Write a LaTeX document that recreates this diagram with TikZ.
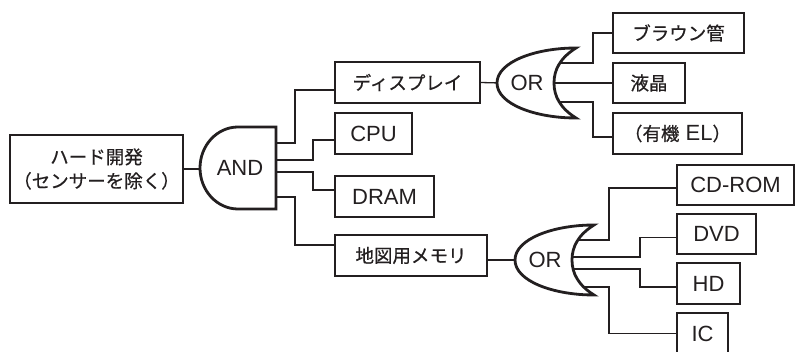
\documentclass[tikz,border=0pt]{standalone}
\usepackage{fontspec}
\setmainfont{Liberation Sans}
\newfontfamily\jp[FakeBold=0.6]{Noto Sans CJK JP}
\usetikzlibrary{calc}
\definecolor{ink}{RGB}{35,31,32}
\newcommand\J[1]{{\jp\fontsize{18.5}{24}\selectfont #1}}
\begin{document}
\begin{tikzpicture}[x=1pt,y=1pt,
  box/.style={draw=ink, line width=1.3pt, rectangle, inner sep=0pt, text=ink, font=\fontsize{22}{26}\selectfont, align=center},
  jbox/.style={box, font=\jp\fontsize{18.5}{24}\selectfont},
  wire/.style={draw=ink, line width=1.3pt},
  gate/.style={draw=ink, line width=2.8pt, fill=white, line join=miter, miter limit=4},
  glabel/.style={text=ink, font=\fontsize{22}{26}\selectfont, inner sep=0pt}]
\useasboundingbox (0,0) rectangle (795,-352);
\fill[white] (0,0) rectangle (795,-352);

% boxes
\node[jbox, minimum width=173, minimum height=68] (hard) at (96.5,-169) {ハード開発\\（センサーを除く）};
\node[jbox, minimum width=145, minimum height=41] (disp) at (407.5,-82.5) {ディスプレイ};
\node[box, minimum width=77, minimum height=41] (cpu) at (373.5,-133.5) {CPU};
\node[box, minimum width=99, minimum height=41] (dram) at (384.5,-196.5) {DRAM};
\node[jbox, minimum width=152, minimum height=41] (map) at (411,-255.5) {地図用メモリ};
\node[jbox, minimum width=131, minimum height=40] (braun) at (678.5,-33) {ブラウン管};
\node[jbox, minimum width=72, minimum height=40] (lcd) at (649,-83) {液晶};
\node[box, minimum width=129, minimum height=41] (oel) at (677.5,-133.5) {\J{（有機} EL\J{）}};
\node[box, minimum width=117, minimum height=40] (cdrom) at (735.5,-185) {CD-ROM};
\node[box, minimum width=79, minimum height=40] (dvd) at (716.5,-234) {DVD};
\node[box, minimum width=63, minimum height=41] (hd) at (708.5,-283.5) {HD};
\node[box, minimum width=51, minimum height=41] (ic) at (702.5,-333.5) {IC};

% gate connection points
\coordinate (andin) at (204,-169);
\coordinate (ao1) at (270,-143);
\coordinate (ao2) at (270,-160);
\coordinate (ao3) at (270,-172);
\coordinate (ao4) at (270,-197);
\coordinate (or1in) at (500,-83);
\coordinate (or2in) at (518,-260);
\coordinate (o1a) at (550,-63);
\coordinate (o1b) at (550,-83);
\coordinate (o1c) at (550,-102);
\coordinate (o2a) at (568,-240);
\coordinate (o2b) at (566,-257);
\coordinate (o2c) at (566,-269);
\coordinate (o2d) at (568,-287);

% wires
\draw[wire] (hard.east) -- (andin);
\draw[wire] (ao1) -- (295,-143) |- ($(disp.west)+(0,-7.5)$);
\draw[wire] (ao2) -- (313,-160) |- ($(cpu.west)+(0,-6.5)$);
\draw[wire] (ao3) -- (313,-172) |- ($(dram.west)+(0,6.5)$);
\draw[wire] (ao4) -- (295,-197) |- ($(map.west)+(0,10.5)$);
\draw[wire] (disp.east) -- (or1in);
\draw[wire] ($(map.east)+(0,-4.5)$) -- (or2in);
\draw[wire] (o1a) -- (593,-63) |- (braun.west);
\draw[wire] (o1b) -- (lcd.west);
\draw[wire] (o1c) -- (593,-102) |- ($(oel.west)+(0,-3.5)$);
\draw[wire] (o2a) -- (609,-240) |- ($(cdrom.west)+(0,-3)$);
\draw[wire] (o2b) -- (640,-257) |- ($(dvd.west)+(0,-3.5)$);
\draw[wire] (o2c) -- (640,-269) |- ($(hd.west)+(0,-3.5)$);
\draw[wire] (o2d) -- (609,-287) |- (ic.west);

% gates
\draw[gate] (276,-127) -- (238,-127) arc[start angle=90, end angle=270, x radius=38, y radius=41] -- (276,-209) -- cycle;
\node[glabel] (andg) at (240,-168) {AND};

\draw[gate] (497,-83) .. controls (497,-62) and (535,-48) .. (576,-48)
  .. controls (560,-58) and (554,-70) .. (554,-83)
  .. controls (554,-96) and (560,-108) .. (576,-118)
  .. controls (535,-118) and (497,-104) .. (497,-83) -- cycle;
\node[glabel] (or1) at (527,-83) {OR};

\begin{scope}[shift={(18,-177)}]
\draw[gate] (497,-83) .. controls (497,-62) and (535,-48) .. (576,-48)
  .. controls (560,-58) and (554,-70) .. (554,-83)
  .. controls (554,-96) and (560,-108) .. (576,-118)
  .. controls (535,-118) and (497,-104) .. (497,-83) -- cycle;
\end{scope}
\node[glabel] (or2) at (545,-260) {OR};
\end{tikzpicture}
\end{document}
